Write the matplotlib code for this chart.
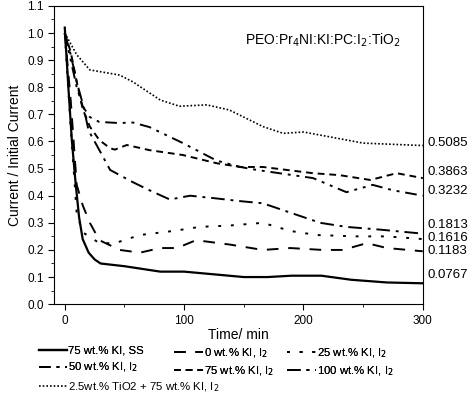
import matplotlib
matplotlib.use("Agg")
import matplotlib.pyplot as plt

plt.rcParams['font.family'] = ['Liberation Sans', 'DejaVu Sans']
plt.rcParams['font.size'] = 8

# time (min) / normalised current
t_ss = [0, 3, 6, 9, 12, 15, 20, 25, 30, 50, 80, 100, 150, 170, 190, 215, 240, 270, 300]
y_ss = [1.02, 0.80, 0.60, 0.45, 0.32, 0.24, 0.19, 0.165, 0.15, 0.14, 0.12, 0.12, 0.10, 0.10, 0.105, 0.105, 0.09, 0.08, 0.077]

t_0 = [0, 5, 10, 15, 21, 29, 46, 63, 80, 94, 110, 138, 166, 189, 216, 233, 253, 270, 300]
y_0 = [1.0, 0.75, 0.44, 0.365, 0.30, 0.236, 0.20, 0.19, 0.207, 0.207, 0.236, 0.22, 0.20, 0.207, 0.20, 0.20, 0.225, 0.207, 0.195]

t_25 = [0, 5, 10, 15, 29, 42, 63, 91, 113, 138, 166, 189, 211, 245, 270, 300]
y_25 = [1.0, 0.65, 0.335, 0.265, 0.225, 0.225, 0.255, 0.27, 0.285, 0.29, 0.30, 0.27, 0.255, 0.25, 0.25, 0.24]

t_50 = [0, 5, 10, 15, 21, 29, 46, 57, 71, 99, 127, 147, 161, 208, 236, 258, 275, 300]
y_50 = [1.0, 0.90, 0.80, 0.73, 0.69, 0.672, 0.668, 0.67, 0.653, 0.594, 0.53, 0.506, 0.495, 0.465, 0.413, 0.44, 0.42, 0.40]

t_75 = [0, 5, 10, 15, 21, 29, 38, 42, 52, 71, 99, 127, 147, 166, 208, 230, 256, 278, 300]
y_75 = [1.0, 0.93, 0.82, 0.72, 0.655, 0.605, 0.575, 0.57, 0.587, 0.568, 0.55, 0.52, 0.506, 0.506, 0.483, 0.476, 0.458, 0.483, 0.465]

t_100 = [0, 5, 10, 15, 20, 29, 38, 57, 71, 88, 105, 127, 147, 166, 194, 214, 236, 264, 300]
y_100 = [1.0, 0.92, 0.82, 0.74, 0.64, 0.568, 0.495, 0.45, 0.42, 0.386, 0.40, 0.39, 0.38, 0.372, 0.33, 0.30, 0.285, 0.275, 0.26]

t_tio2 = [0, 5, 10, 21, 46, 57, 80, 96, 119, 138, 166, 183, 200, 222, 250, 300]
y_tio2 = [1.0, 0.96, 0.92, 0.864, 0.845, 0.82, 0.753, 0.73, 0.735, 0.716, 0.655, 0.63, 0.635, 0.617, 0.594, 0.585]

end_labels = ['0.5085', '0.3863', '0.3232', '0.1813', '0.1616', '0.1183', '0.0767']
end_label_y = [0.594, 0.487, 0.417, 0.293, 0.245, 0.197, 0.107]

fig = plt.figure(figsize=(4.74, 3.94), dpi=100)
ax = fig.add_axes([0.114, 0.228, 0.778, 0.757])

l_ss, = ax.plot(t_ss, y_ss, color='black', lw=1.6, ls='-', label='75 wt.% KI, SS')
l_0, = ax.plot(t_0, y_0, color='black', lw=1.4, ls=(0, (6, 5)), label='0 wt.% KI, I$_2$')
l_25, = ax.plot(t_25, y_25, color='black', lw=1.4, ls=(0, (1.5, 5)), label='25 wt.% KI, I$_2$')
l_50, = ax.plot(t_50, y_50, color='black', lw=1.4, ls=(0, (6, 3, 1.5, 3, 1.5, 3)), label='50 wt.% KI, I$_2$')
l_75, = ax.plot(t_75, y_75, color='black', lw=1.4, ls=(0, (3.5, 2.5)), label='75 wt.% KI, I$_2$')
l_100, = ax.plot(t_100, y_100, color='black', lw=1.4, ls=(0, (7, 3, 1.5, 3)), label='100 wt.% KI, I$_2$')
l_tio2, = ax.plot(t_tio2, y_tio2, color='black', lw=1.2, ls=(0, (1, 1.2)), label='2.5wt.% TiO2 + 75 wt.% KI, I$_2$')

for lab, yv in zip(end_labels, end_label_y):
    ax.text(304, yv, lab, fontsize=9.5, ha='left', va='center', clip_on=False)

ax.text(216, 0.975, 'PEO:Pr$_4$NI:KI:PC:I$_2$:TiO$_2$', fontsize=10, ha='center', va='center')

ax.set_xlim(-9, 300)
ax.set_ylim(0, 1.1)
ax.set_xticks([0, 100, 200, 300])
ax.set_xticks([50, 150, 250], minor=True)
ax.set_yticks([i / 10 for i in range(12)])
ax.set_yticks([0.05 + i / 10 for i in range(11)], minor=True)
ax.tick_params(which='both', direction='out', top=False, right=False, labelsize=8.5)
ax.tick_params(which='major', length=4)
ax.tick_params(which='minor', length=2.5)
ax.set_xlabel('Time/ min', fontsize=10, labelpad=1)
ax.set_ylabel('Current / Initial Current', fontsize=10, labelpad=4)

# legend laid out as three columns of two rows, plus one row below
leg_kw = dict(loc='upper left', frameon=False, fontsize=8.2, handlelength=2.5,
              handletextpad=0.1, labelspacing=0.42, borderaxespad=0, borderpad=0)
columns = [([l_ss, l_50], 0.082), ([l_0, l_75], 0.368), ([l_25, l_100], 0.606)]
for handles, x0 in columns:
    leg = fig.legend(handles, [h.get_label() for h in handles],
                     bbox_to_anchor=(x0, 0.122), **leg_kw)
    fig.add_artist(leg)
fig.legend([l_tio2], [l_tio2.get_label()], bbox_to_anchor=(0.082, 0.035), **leg_kw)

fig.savefig('out.png', dpi=100)
